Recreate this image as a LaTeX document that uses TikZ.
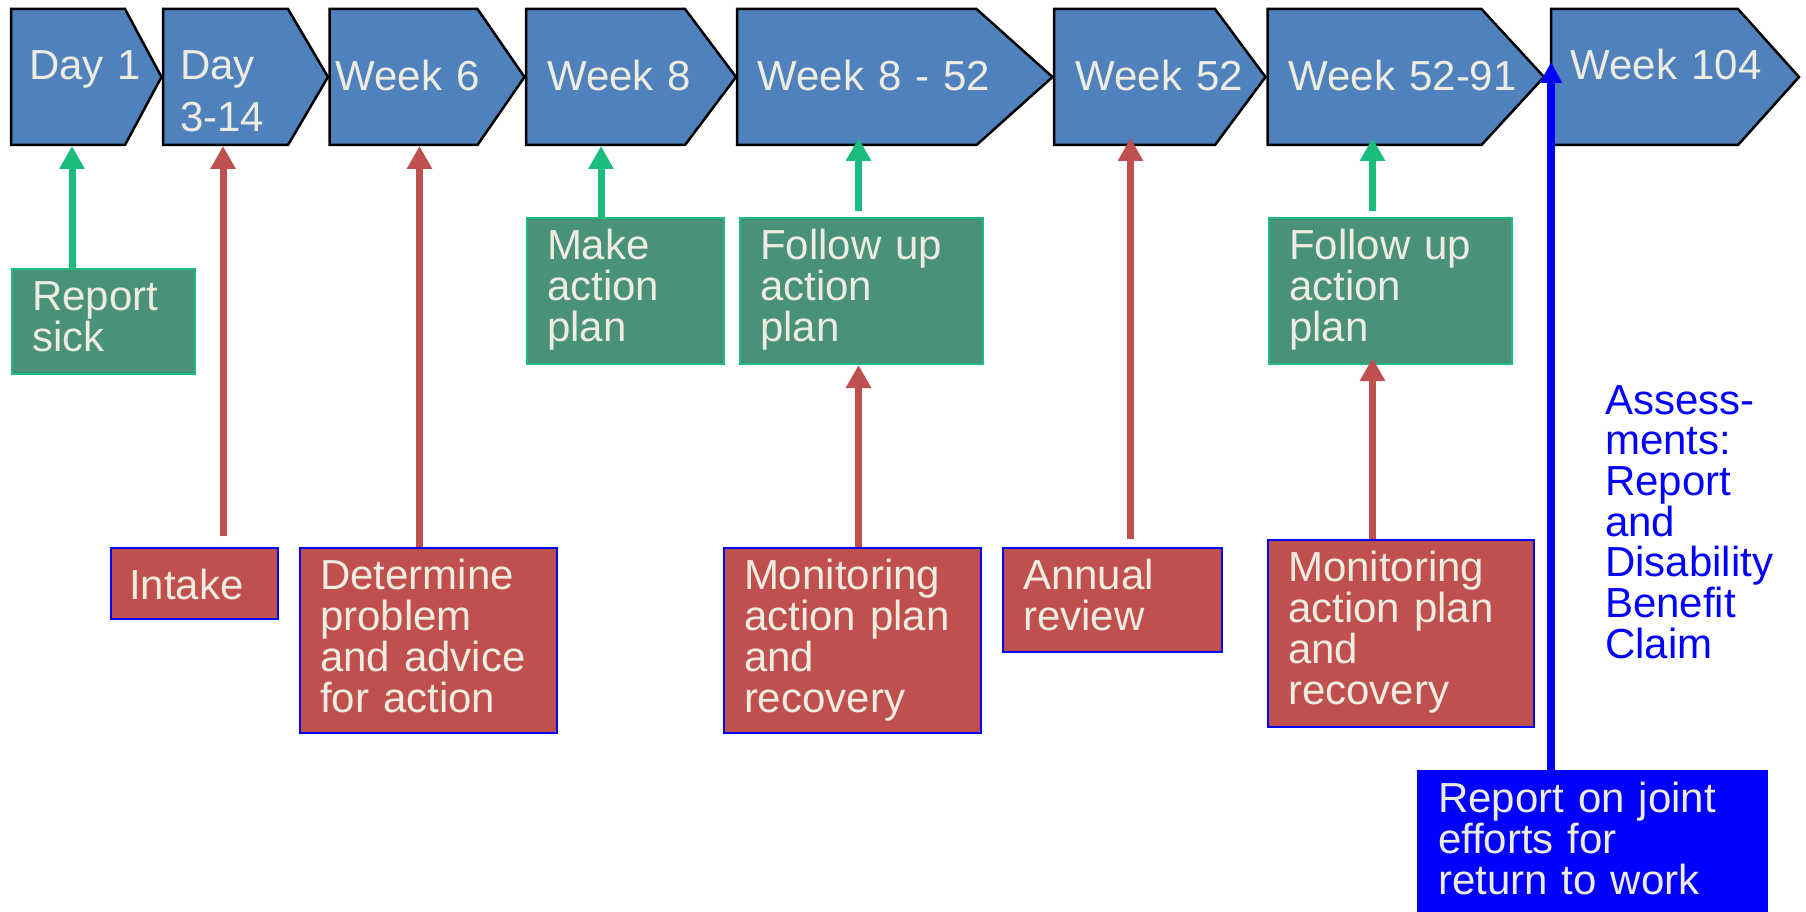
\documentclass[tikz,border=0pt]{standalone}
\usepackage{fontspec}
\setmainfont{Liberation Sans}
\usetikzlibrary{arrows.meta,calc}
\definecolor{chevblue}{RGB}{79,129,189}
\definecolor{cream}{RGB}{238,236,225}
\definecolor{grnfill}{RGB}{73,145,120}
\definecolor{grnline}{RGB}{27,189,126}
\definecolor{redfill}{RGB}{192,80,77}
\tikzset{
	chevron/.style={draw=black, fill=chevblue, line width=2.5pt, line join=miter},
	chevtext/.style={text=cream, anchor=base west, inner sep=0pt, align=left, text width=260pt, font=\fontsize{42}{52}\selectfont},
	stepbox/.style={anchor=north west, align=left, inner xsep=20pt, inner ysep=10pt, text height=31pt, text=cream, line width=2pt, font=\fontsize{42}{41}\selectfont},
	greenbox/.style={stepbox, draw=grnline, fill=grnfill},
	redbox/.style={stepbox, draw=blue, fill=redfill},
	grnarrow/.style={draw=grnline, line width=7pt, -{Triangle[width=24pt,length=23pt]}},
	redarrow/.style={draw=redfill, line width=7pt, -{Triangle[width=24pt,length=23pt]}},
	bluearrow/.style={draw=blue, line width=8pt, -{Triangle[width=21pt,length=21pt]}},
}
\begin{document}
\begin{tikzpicture}[x=1pt, y=-1pt]
	\useasboundingbox (0,0) rectangle (1806,912);
	\draw[chevron] (11,9) -- (125,9) -- (161.5,77) -- (125,145) -- (11,145) -- cycle;
	\draw[chevron] (163,9) -- (288,9) -- (328,77) -- (288,145) -- (163,145) -- cycle;
	\draw[chevron] (329.5,9) -- (477.5,9) -- (524.5,77) -- (477.5,145) -- (329.5,145) -- cycle;
	\draw[chevron] (526,9) -- (685,9) -- (736,77) -- (685,145) -- (526,145) -- cycle;
	\draw[chevron] (737,9) -- (976.5,9) -- (1052.5,77) -- (976.5,145) -- (737,145) -- cycle;
	\draw[chevron] (1054,9) -- (1215,9) -- (1265.5,77) -- (1215,145) -- (1054,145) -- cycle;
	\draw[chevron] (1267.5,9) -- (1481.5,9) -- (1544,77) -- (1481.5,145) -- (1267.5,145) -- cycle;
	\draw[chevron] (1551,9) -- (1738,9) -- (1799,77) -- (1738,145) -- (1551,145) -- cycle;
	\node[chevtext] (day1) at (29,80) {Day 1};
	\node[chevtext] (day3) at (180,80) {Day\\3-14};
	\node[chevtext] (wk6) at (335.5,91) {Week 6};
	\node[chevtext] (wk8) at (547,91) {Week 8};
	\node[chevtext] (wk852) at (757.5,91) {Week 8 - 52};
	\node[chevtext] (wk52) at (1075.5,91) {Week 52};
	\node[chevtext] (wk5291) at (1288.5,91) {Week 52-91};
	\node[chevtext] (wk104) at (1570.5,80) {Week 104};
	\node[greenbox, text width=143pt, text depth=54pt] (rep) at (11,268) {Report\\sick};
	\node[greenbox, text width=157pt, text depth=95pt] (mk) at (526,217) {Make\\action\\plan};
	\node[greenbox, text width=203pt, text depth=95pt] (fu1) at (739,217) {Follow up\\action\\plan};
	\node[greenbox, text width=203pt, text depth=95pt] (fu2) at (1268,217) {Follow up\\action\\plan};
	\node[redbox, text width=131pt, text height=41pt, text depth=10pt, inner xsep=18pt] (intake) at (110,547) {Intake};
	\node[redbox, text width=217pt, text depth=134pt] (det) at (299,547) {Determine\\problem\\and advice\\for action};
	\node[redbox, text width=217pt, text depth=134pt] (mon1) at (723,547) {Monitoring\\action plan\\and\\recovery};
	\node[redbox, text width=179pt, text depth=53pt] (ann) at (1002,547) {Annual\\review};
	\node[redbox, text width=226pt, text depth=136pt] (mon2) at (1267,539) {Monitoring\\action plan\\and\\recovery};
	\node[stepbox, draw=blue, fill=blue, text width=309pt, text depth=91pt] (rj) at (1417,770) {Report on joint\\efforts for\\return to work};
	\node[anchor=base west, inner sep=0pt, text=blue, align=left, text width=200pt, font=\fontsize{42}{40.7}\selectfont] (assess) at (1605,414) {Assess-\\ments:\\Report\\and\\Disability\\Benefit\\Claim};
	\coordinate (t1) at (72,146);
	\coordinate (t2) at (223,146);
	\coordinate (t3) at (419.5,146);
	\coordinate (t4) at (601,146);
	\coordinate (t5) at (858.5,138);
	\coordinate (t6) at (1130.5,138);
	\coordinate (t7) at (1372.5,138);
	\coordinate (t8) at (1551,62);
	\draw[grnarrow] (rep.north -| t1) -- (t1);
	\draw[redarrow] ($(intake.north -| t2)+(0,-11)$) -- (t2);
	\draw[redarrow] (det.north -| t3) -- (t3);
	\draw[grnarrow] (mk.north -| t4) -- (t4);
	\draw[grnarrow] ($(fu1.north -| t5)+(0,-6)$) -- (t5);
	\draw[redarrow] (mon1.north -| t5) -- (fu1.south -| t5);
	\draw[redarrow] ($(ann.north -| t6)+(0,-8)$) -- (t6);
	\draw[grnarrow] ($(fu2.north -| t7)+(0,-6)$) -- (t7);
	\draw[redarrow] (mon2.north -| t7) -- ($(fu2.south -| t7)+(0,-7)$);
	\draw[bluearrow] (rj.north -| t8) -- (t8);
\end{tikzpicture}
\end{document}
